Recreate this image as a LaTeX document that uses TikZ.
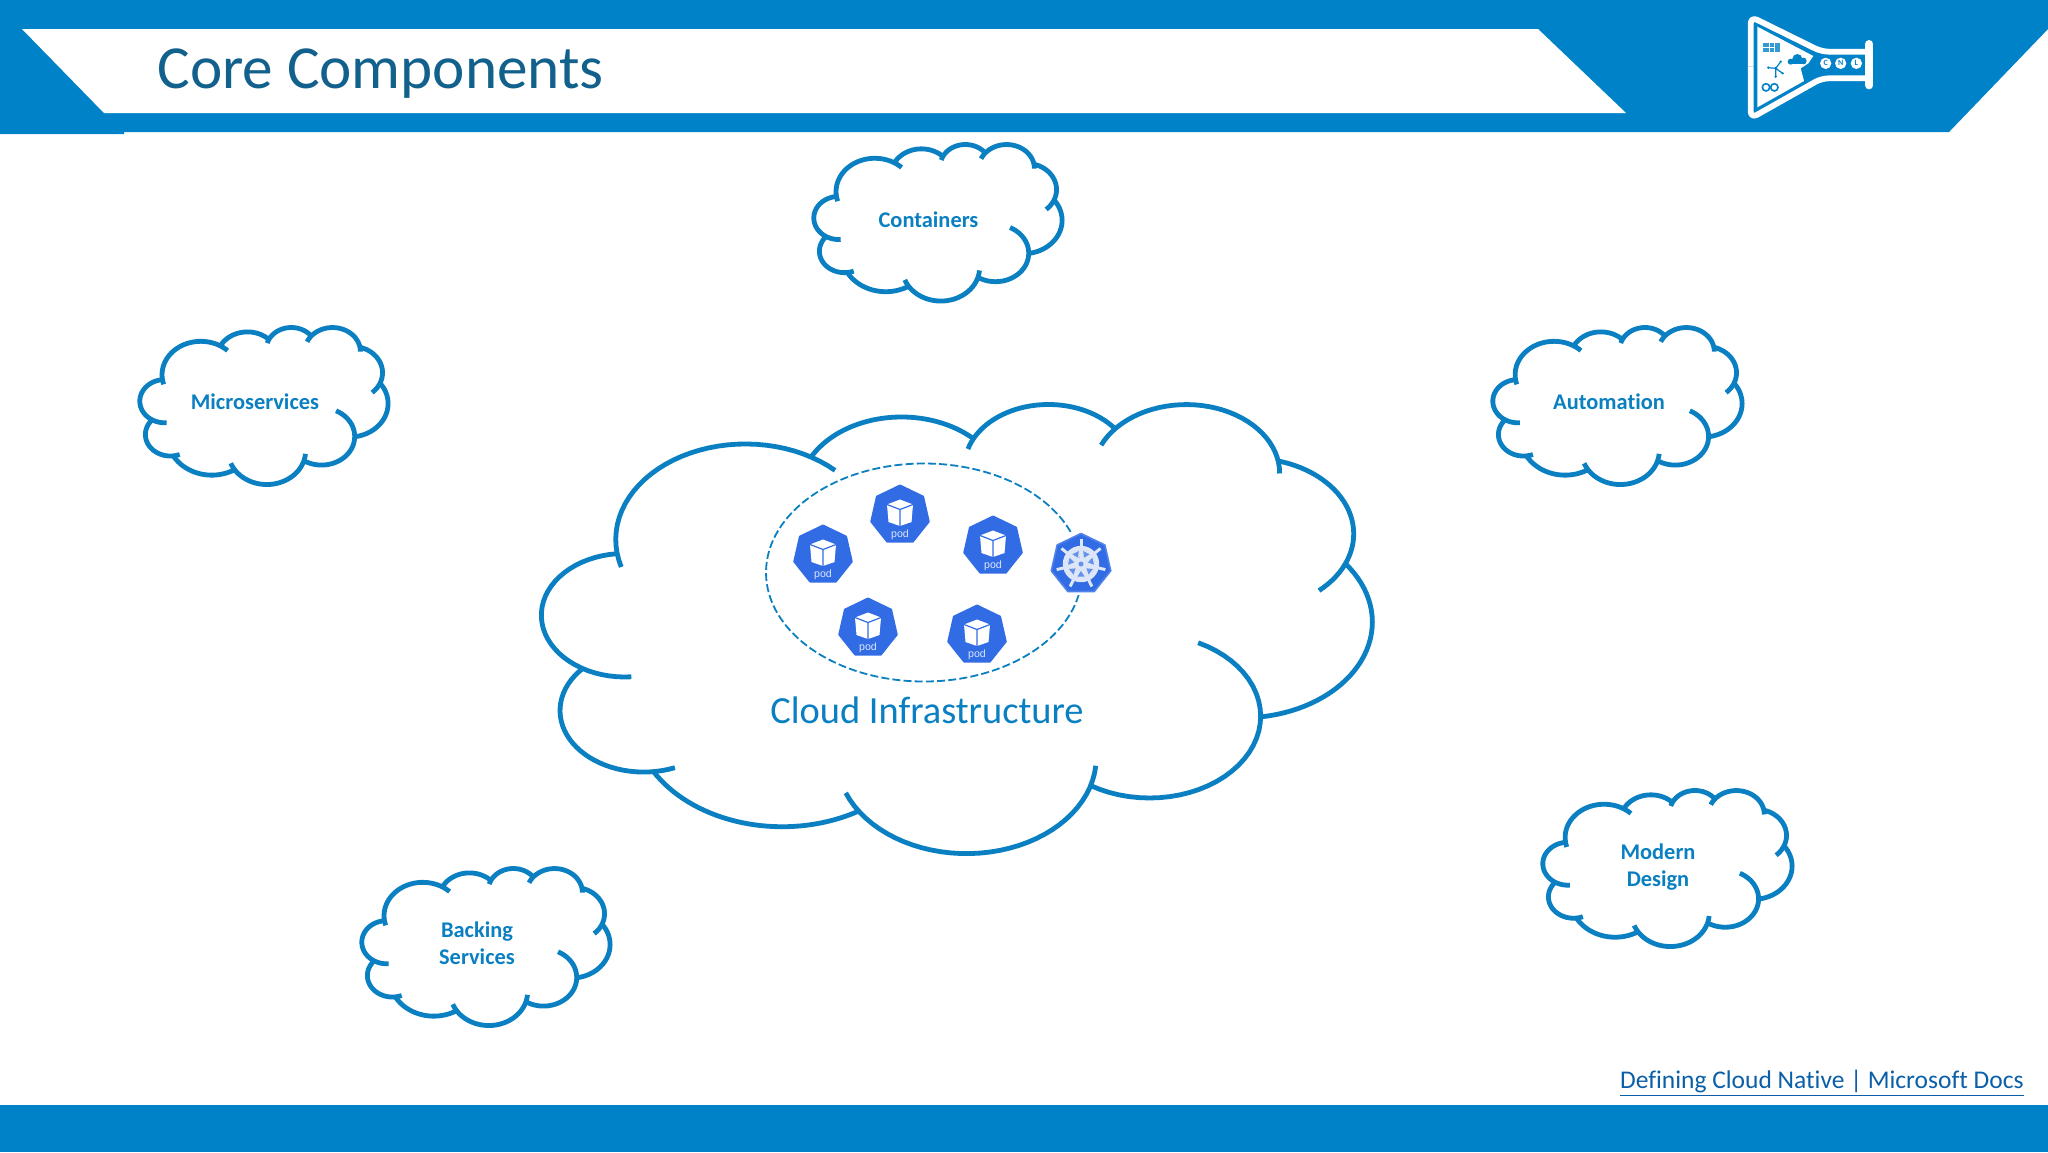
\documentclass[tikz,border=0pt]{standalone}
\usepackage{fontspec}
\setmainfont{Carlito}[Ligatures={NoCommon}]
\newfontfamily\podfont{Liberation Sans}
\usetikzlibrary{calc}
\definecolor{barblue}{HTML}{0082C8}
\definecolor{cloudblue}{HTML}{0A7FC1}
\definecolor{titleblue}{HTML}{12608C}
\definecolor{podblue}{HTML}{326CE5}
\definecolor{linkblue}{HTML}{0B5FA8}
\definecolor{wheelwhite}{HTML}{DCE6F7}
\definecolor{podtext}{HTML}{DDE7FB}
\tikzset{
  cloudline/.style={draw=cloudblue,line width=2.4pt,line join=round},
  cloudlabel/.style={text=cloudblue,font=\fontsize{11.2}{13.5}\selectfont\bfseries,align=center,inner sep=0pt},
  podlabel/.style={text=podtext,font=\podfont\fontsize{5.3}{6}\selectfont,inner sep=0pt},
  logoletter/.style={text=barblue,font=\fontsize{4}{4}\selectfont\bfseries,inner sep=0pt},
}
% one lobe of the cloud: radii, start angle, sweep (drawing angles), extra parameter degrees at each end
\newcommand{\ooarc}[6]{%
  \pgfmathsetmacro{\ooTa}{atan2(#1*sin(#3),#2*cos(#3))}%
  \pgfmathsetmacro{\ooTbraw}{atan2(#1*sin(#3+#4),#2*cos(#3+#4))}%
  \pgfmathsetmacro{\ooTb}{\ooTbraw<\ooTa ? \ooTbraw+360 : \ooTbraw}%
  \pgfmathsetmacro{\ooCx}{\ooX-#1*cos(\ooTa)}%
  \pgfmathsetmacro{\ooCy}{\ooY-#2*sin(\ooTa)}%
  \pgfmathsetmacro{\ooS}{\ooTa-#5}%
  \pgfmathsetmacro{\ooE}{\ooTb+#6}%
  \draw[cloudline] plot[domain=\ooS:\ooE,samples=36] ({\ooCx+#1*cos(\x)},{\ooCy+#2*sin(\x)});
  \pgfmathsetmacro{\ooX}{\ooCx+#1*cos(\ooTb)}%
  \pgfmathsetmacro{\ooY}{\ooCy+#2*sin(\ooTb)}%
}
\newcommand{\cloudshape}[4]{%
  \pgfmathsetmacro{\csx}{(#3-#1)/4320}%
  \pgfmathsetmacro{\csy}{(#4-#2)/4320}%
  \begin{scope}[shift={(#1,#2)},xscale=\csx,yscale=\csy]
  \def\ooX{390}\def\ooY{1437}%
  \ooarc{675.3}{919}{-190.49}{123.78}{9}{13.3}%
  \ooarc{533.3}{726.7}{-144.10}{89.95}{0}{0}%
  \ooarc{436.5}{594.5}{-145.81}{99.72}{10.3}{0}%
  \ooarc{485.7}{659.5}{-130.99}{117.24}{16.2}{10.5}%
  \ooarc{533.3}{727.3}{-78.71}{109.03}{0}{25.4}%
  \ooarc{677.5}{922}{-46.27}{130.27}{0}{0}%
  \ooarc{578.5}{786.7}{0.625}{114.03}{64.5}{0}%
  \ooarc{675.2}{921.5}{22.45}{115.17}{12.1}{12.3}%
  \ooarc{772}{1054.3}{66.24}{75.71}{0}{0}%
  \ooarc{436}{591.8}{-274.94}{146.74}{15.1}{0}%
  \ooarc{434.5}{594.5}{-246.83}{152.52}{34.8}{0}%
  \end{scope}}
\newcommand{\heptagon}[1]{%
  (-90:#1) -- (-38.57:#1) -- (12.86:#1) -- (64.29:#1) -- (115.71:#1) -- (167.14:#1) -- (218.57:#1) -- cycle}
\newcommand{\pod}[3]{%
  \begin{scope}[shift={(#2,#3)}]
    \fill[podblue,draw=podblue,line width=1pt,line join=round] \heptagon{29.5};
    \fill[white] (0,-15.5) -- (13,-10.5) -- (11.5,7) -- (0,11) -- (-11.5,7) -- (-13,-10.5) -- cycle;
    \draw[podblue,line width=0.6pt,line join=round] (-13,-10.5) -- (0,-5.5) -- (13,-10.5) (0,-5.5) -- (0,11);
    \node[podlabel] (#1) at (0,19.5) {pod};
  \end{scope}}
\begin{document}
\begin{tikzpicture}[x=0.5pt,y=-0.5pt]
\useasboundingbox (0,0) rectangle (2048,1152);
\fill[white] (0,0) rectangle (2048,1152);
% header
\fill[barblue] (0,0) -- (2048,0) -- (2048,29) -- (1949,132) -- (124,132) -- (124,134) -- (0,134) -- cycle;
\fill[white] (22,29) -- (1538,29) -- (1626,113) -- (104,113) -- cycle;
\node[anchor=west,text=titleblue,font=\fontsize{30.6}{32}\selectfont,inner sep=0pt] (title) at (157,74) {Core Components};
% logo
\begin{scope}[shift={(1600,0)},xscale=1/3,yscale=1/3]
  \fill[white] (472,80) -- (640,168) -- (625,190) -- (602,205) -- (612,243) -- (472,322) -- cycle;
  \draw[white,line width=2.9pt,rounded corners=3.5pt,line join=round]
    (452,200) -- (452,50) -- (665,155) -- (800,155);
  \draw[white,line width=2.9pt,rounded corners=3.5pt,line join=round]
    (452,200) -- (452,355) -- (665,235) -- (800,235);
  \draw[white,line width=4pt,line cap=round] (808,132) -- (808,256);
  \fill[barblue!80!white] (490,128) rectangle (541,156);
  \draw[white,line width=0.3pt] (507,128) -- (507,156) (524,128) -- (524,156) (490,142) -- (524,142);
  \fill[barblue] (592,177) circle (15) (572,185) circle (9) (610,183) circle (10);
  \fill[barblue] (572,183) rectangle (612,193);
  \draw[barblue,line width=0.6pt] (505,203) -- (527,205) -- (542,185) (527,205) -- (548,220) (527,205) -- (527,230);
  \fill[barblue] (505,203) circle (4) (527,205) circle (5) (542,185) circle (4) (548,220) circle (4) (527,230) circle (4);
  \draw[barblue,line width=0.8pt] (498,262) circle (11) (523,262) circle (11);
  \fill[white] (677,190) circle (17) (722,190) circle (17) (769,190) circle (17);
  \node[logoletter] (logoC) at (677,190) {C};
  \node[logoletter] (logoN) at (722,190) {N};
  \node[logoletter] (logoL) at (769,190) {L};
\end{scope}
% footer
\fill[barblue] (0,1105) rectangle (2048,1152);
\node[anchor=east,text=linkblue,font=\fontsize{12.75}{14}\selectfont,inner sep=0pt] (link) at (2024,1083.5) {\underline{Defining Cloud Native | Microsoft Docs}};
% clouds
\cloudshape{542}{403}{1372}{852}
\cloudshape{814}{144}{1062}{300.5}
\cloudshape{140}{327}{388}{484}
\cloudshape{1493}{327}{1742}{484}
\cloudshape{1543}{790}{1792}{946}
\cloudshape{362}{868}{610}{1025}
\node[cloudlabel] (containers) at (928.5,220) {Containers};
\node[cloudlabel] (microservices) at (255,402) {Microservices};
\node[cloudlabel] (automation) at (1609,402) {Automation};
\node[cloudlabel] (modern) at (1658,867) {Modern\\Design};
\node[cloudlabel] (backing) at (477,943.5) {Backing\\Services};
\node[text=cloudblue,font=\fontsize{19.2}{21}\selectfont,inner sep=0pt] (infra) at (927,710) {Cloud Infrastructure};
% pods
\draw[cloudblue,line width=0.9pt,dash pattern=on 4pt off 1.6pt] (924,572.5) ellipse [x radius=158,y radius=109];
\pod{pod1}{900}{515}
\pod{pod2}{823}{555}
\pod{pod3}{993}{546}
\pod{pod4}{868}{628}
\pod{pod5}{977}{635}
% helm wheel
\begin{scope}[shift={(1081,564)}]
  \fill[white,draw=white,line width=1.5pt,line join=round] \heptagon{33};
  \fill[podblue,draw=podblue!85!white,line width=0.8pt,line join=round] \heptagon{30.5};
  \foreach \a in {-90,-38.57,12.86,64.29,115.71,167.14,218.57}
    \draw[wheelwhite,line width=1.5pt] (\a:3) -- (\a:25);
  \draw[wheelwhite,line width=2.2pt] (0,0) circle (16);
  \foreach \a in {-64.29,-12.86,38.57,90,141.43,192.86,244.29}
    \fill[wheelwhite] (\a:4) -- (\a-24:14) arc[start angle=\a-24,end angle=\a+24,radius=14] -- cycle;
  \foreach \a in {-64.29,-12.86,38.57,90,141.43,192.86,244.29}
    \fill[podblue!70!wheelwhite] (\a:7) -- (\a-16:13) -- (\a+16:13) -- cycle;
  \fill[wheelwhite] (0,0) circle (6);
  \fill[podblue!70!wheelwhite] (0,0) circle (2.5);
\end{scope}
\end{tikzpicture}
\end{document}
